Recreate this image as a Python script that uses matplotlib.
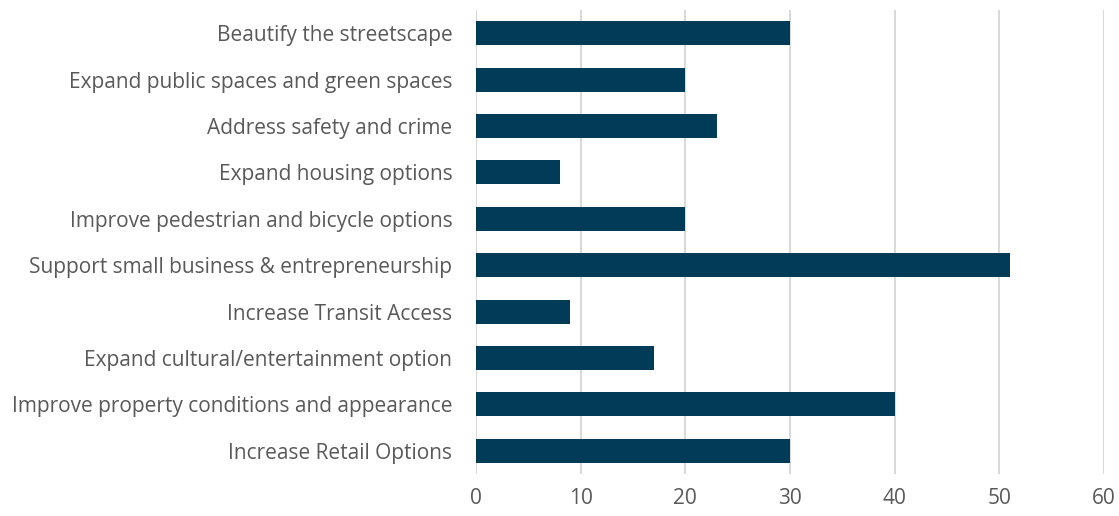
import matplotlib.pyplot as plt

categories = [
    'Beautify the streetscape',
    'Expand public spaces and green spaces',
    'Address safety and crime',
    'Expand housing options',
    'Improve pedestrian and bicycle options',
    'Support small business & entrepreneurship',
    'Increase Transit Access',
    'Expand cultural/entertainment option',
    'Improve property conditions and appearance',
    'Increase Retail Options',
]
values = [30, 20, 23, 8, 20, 51, 9, 17, 40, 30]
x_ticks = [0, 10, 20, 30, 40, 50, 60]

plt.rcParams['font.family'] = ['Open Sans', 'DejaVu Sans']

fig = plt.figure(figsize=(1119 / 100, 516 / 100), dpi=100)
ax = fig.add_axes([476 / 1119, 1 - 474 / 516, (1104 - 476) / 1119, 464 / 516])

pos = list(range(len(categories)))
ax.barh(pos, values, height=0.52, color='#003C57', zorder=3)
ax.set_yticks(pos)
ax.set_yticklabels(categories, fontsize=15, color='#595959')
ax.set_ylim(len(categories) - 0.5, -0.5)
ax.set_xlim(0, 60)
ax.set_xticks(x_ticks)
ax.tick_params(axis='x', labelsize=15, labelcolor='#595959', length=0, pad=10)
ax.tick_params(axis='y', length=0, pad=17)
ax.grid(axis='x', color='#D9D9D9', linewidth=1.5, zorder=0)
for s in ax.spines.values():
    s.set_visible(False)

plt.savefig('out.png', dpi=100)
